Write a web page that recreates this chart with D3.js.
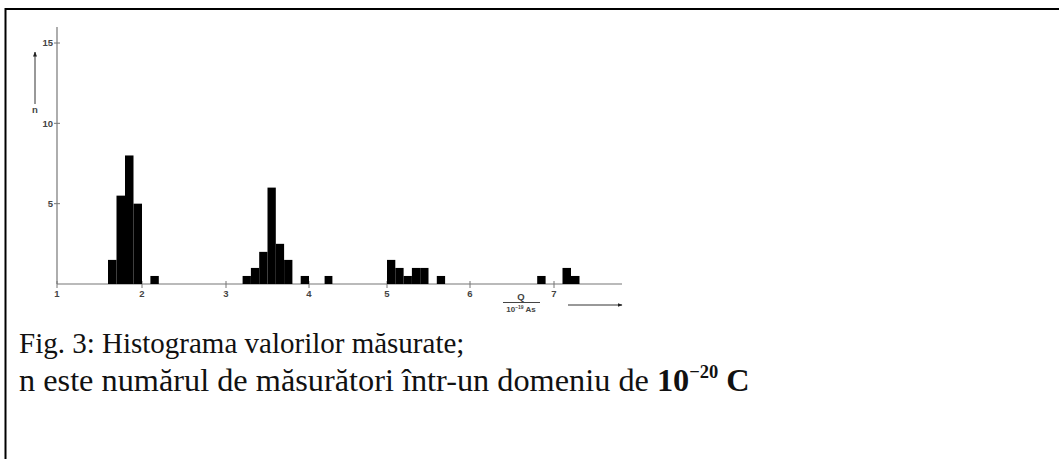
<!DOCTYPE html>
<html>
<head>
<meta charset="utf-8">
<script src="https://cdn.jsdelivr.net/npm/d3@7"></script>
<style>
  html, body { margin: 0; padding: 0; background: #fff; }
  svg { display: block; }
  .tick-label { font-family: Arial, "Liberation Sans", sans-serif; font-weight: bold; font-size: 9.5px; fill: #444; }
  .caption { font-family: "Times New Roman", "Liberation Serif", serif; fill: #111; }
</style>
</head>
<body>
<div id="chart"></div>
<script>
// histogram of measured charges, bin width 0.1 (x 10^-19 As)
const binStarts = [1.6, 1.7, 1.8, 1.9, 2.1, 3.2, 3.3, 3.4, 3.5, 3.6, 3.7, 3.9, 4.2, 5.0, 5.1, 5.2, 5.3, 5.4, 5.6, 6.8, 7.1, 7.2]
const counts = [1.5, 5.5, 8, 5, 0.5, 0.5, 1, 2, 6, 2.5, 1.5, 0.5, 0.5, 1.5, 1, 0.5, 1, 1, 0.5, 0.5, 1, 0.5]
const binWidth = 0.1
const xTicks = [1, 2, 3, 4, 5, 6, 7]
const yTicks = [5, 10, 15]
const captionLine1 = 'Fig. 3: Histograma valorilor măsurate;'
const captionLine2 = 'n este numărul de măsurători într-un domeniu de '

const W = 1059, H = 459

const svg = d3.select('#chart').append('svg').attr('width', W).attr('height', H)
svg.append('rect').attr('width', W).attr('height', H).attr('fill', '#fff')

// frame (only top and left edges show in the picture)
svg.append('line').attr('x1', 5).attr('y1', 9).attr('x2', W).attr('y2', 9)
	.attr('stroke', '#000').attr('stroke-width', 2)
svg.append('line').attr('x1', 5.5).attr('y1', 8).attr('x2', 5.5).attr('y2', H)
	.attr('stroke', '#000').attr('stroke-width', 2)

// the scanned axis is slightly uneven, so the scale follows the tick marks
const x = d3.scaleLinear()
	.domain([1, 2, 3, 4, 5, 6, 7, 7.8])
	.range([57, 142, 226, 309, 387, 470, 554, 622])
const y = d3.scaleLinear().domain([0, 15]).range([284, 43])

const axisColor = '#777'

// y axis
svg.append('line').attr('x1', x(1)).attr('x2', x(1)).attr('y1', 27).attr('y2', y(0))
	.attr('stroke', axisColor).attr('stroke-width', 1.2)
const yt = svg.append('g').selectAll('g').data(yTicks).enter().append('g')
yt.append('line').attr('x1', x(1) - 3).attr('x2', x(1) + 3)
	.attr('y1', d => y(d)).attr('y2', d => y(d)).attr('stroke', axisColor)
yt.append('text').attr('class', 'tick-label').attr('x', x(1) - 4).attr('y', d => y(d))
	.attr('dy', '0.35em').attr('text-anchor', 'end').text(d => d)

// x axis
svg.append('line').attr('x1', x(1)).attr('x2', x(7.8)).attr('y1', y(0)).attr('y2', y(0))
	.attr('stroke', axisColor).attr('stroke-width', 1.2)
const xt = svg.append('g').selectAll('g').data(xTicks).enter().append('g')
xt.append('line').attr('x1', d => x(d)).attr('x2', d => x(d))
	.attr('y1', y(0) - 3).attr('y2', y(0) + 4).attr('stroke', axisColor)
xt.append('text').attr('class', 'tick-label').attr('x', d => x(d)).attr('y', y(0) + 13)
	.attr('text-anchor', 'middle').text(d => d)

// bars
svg.append('g').selectAll('rect').data(binStarts).enter().append('rect')
	.attr('x', d => x(d))
	.attr('width', d => x(d + binWidth) - x(d))
	.attr('y', (d, i) => y(counts[i]))
	.attr('height', (d, i) => y(0) - y(counts[i]))
	.attr('fill', '#000')

// arrow heads
const defs = svg.append('defs')
defs.append('marker').attr('id', 'arrow').attr('viewBox', '0 0 10 10')
	.attr('refX', 9).attr('refY', 5).attr('markerWidth', 5).attr('markerHeight', 5)
	.attr('orient', 'auto')
	.append('path').attr('d', 'M0,1 L10,5 L0,9 z').attr('fill', '#222')

// y label "n" with arrow
svg.append('line').attr('x1', 35).attr('x2', 35).attr('y1', 104).attr('y2', 52)
	.attr('stroke', '#333').attr('stroke-width', 1).attr('marker-end', 'url(#arrow)')
svg.append('text').attr('class', 'tick-label').attr('x', 35).attr('y', 113)
	.attr('text-anchor', 'middle').text('n')

// x label Q / 10^-19 As with arrow
const fx = 521
svg.append('text').attr('class', 'tick-label').attr('x', fx).attr('y', 300)
	.attr('text-anchor', 'middle').text('Q')
svg.append('line').attr('x1', 503).attr('x2', 540).attr('y1', 302.5).attr('y2', 302.5)
	.attr('stroke', '#444').attr('stroke-width', 1)
const den = svg.append('text').attr('class', 'tick-label').attr('x', fx).attr('y', 312)
	.attr('text-anchor', 'middle').style('font-size', '8px')
den.append('tspan').text('10')
den.append('tspan').attr('dy', -3).style('font-size', '5px').text('−19')
den.append('tspan').attr('dy', 3).text(' As')
svg.append('line').attr('x1', 568).attr('x2', 622).attr('y1', 305).attr('y2', 305)
	.attr('stroke', '#333').attr('stroke-width', 1).attr('marker-end', 'url(#arrow)')

// caption
svg.append('text').attr('class', 'caption').attr('x', 19).attr('y', 353)
	.style('font-size', '29px').text(captionLine1)
const c2 = svg.append('text').attr('class', 'caption').attr('x', 19).attr('y', 391)
	.style('font-size', '32.3px')
c2.append('tspan').text(captionLine2)
c2.append('tspan').style('font-weight', 'bold').text('10')
c2.append('tspan').style('font-weight', 'bold').style('font-size', '18.5px').attr('dy', -13).text('−20')
c2.append('tspan').style('font-weight', 'bold').attr('dy', 13).text(' C')
</script>
</body>
</html>
